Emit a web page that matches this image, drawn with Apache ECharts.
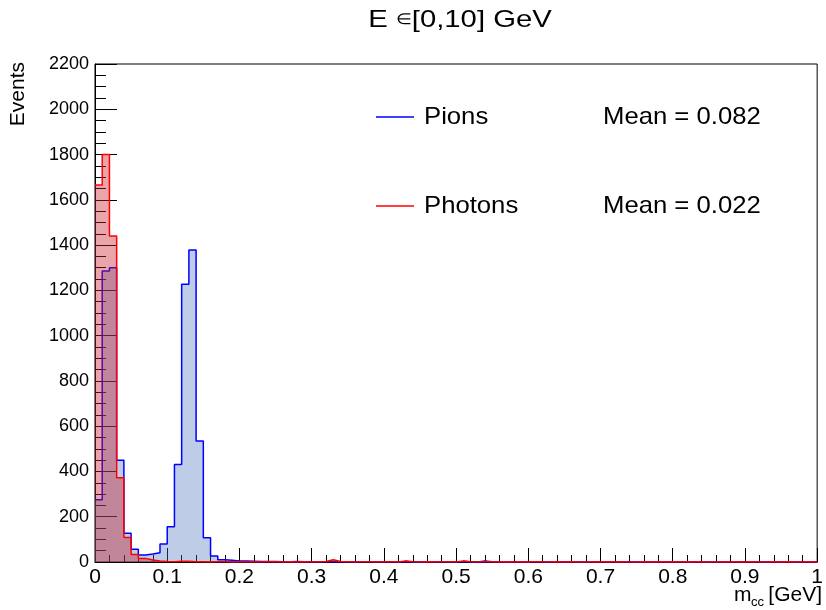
<!DOCTYPE html>
<html>
<head>
<meta charset="utf-8">
<script src="https://cdn.jsdelivr.net/npm/echarts@6/dist/echarts.min.js"></script>
<style>
html, body { margin: 0; padding: 0; background: #fff; }
#chart { width: 826px; height: 610px; }
</style>
</head>
<body>
<div id="chart"></div>
<script>
var myChart = echarts.init(document.getElementById('chart'));

// histogram: 100 bins of width 0.01 on [0,1]
var binWidth = 0.01;

var pions = [
    275, 1285, 1300, 450, 127, 56, 31, 35, 41, 80,
    156, 431, 1227, 1378, 534, 107, 26, 10, 8, 4,
    4, 3, 2, 2, 2, 1, 1, 2, 1, 1,
    0, 1, 1, 0, 1, 0, 1, 1, 0, 0,
    1, 0, 1, 0, 0, 1, 0, 0, 1, 0,
    0, 1, 0, 4, 1, 0, 0, 1, 0, 0,
    0, 1, 0, 0, 1, 0, 0, 0, 1, 0,
    0, 0, 0, 1, 0, 0, 0, 1, 0, 0,
    0, 0, 1, 0, 0, 0, 0, 0, 1, 0,
    0, 0, 0, 0, 0, 1, 0, 0, 0, 0
];

var photons = [
    1665, 1800, 1440, 372, 108, 33, 16, 9, 4, 2,
    1, 3, 3, 1, 1, 0, 1, 1, 0, 1,
    0, 1, 0, 1, 1, 0, 1, 0, 1, 0,
    1, 2, 10, 2, 1, 0, 1, 1, 0, 1,
    1, 0, 5, 1, 0, 1, 0, 1, 1, 0,
    5, 1, 0, 1, 1, 0, 1, 0, 1, 0,
    1, 1, 0, 1, 0, 1, 0, 0, 1, 0,
    1, 0, 1, 0, 0, 1, 0, 1, 0, 1,
    0, 1, 0, 1, 0, 0, 1, 0, 1, 0,
    1, 0, 0, 1, 0, 1, 0, 0, 1, 0
];

var legendNames = ['Pions', 'Photons'];
var legendMeans = ['Mean = 0.082', 'Mean = 0.022'];
var lineColors = ['#0000ff', '#ff0000'];
var fillColors = ['rgba(70,110,190,0.35)', 'rgba(200,30,40,0.40)'];

var font = '"Liberation Sans", Arial, sans-serif';

// bin left edges -> step points
function toSteps(counts) {
    var d = counts.map(function (c, i) {
        return [+(i * binWidth).toFixed(2), c];
    });
    d.push([+(counts.length * binWidth).toFixed(2), counts[counts.length - 1]]);
    return d;
}

var legendGraphics = [];
legendNames.forEach(function (name, i) {
    var y = 117 + i * 89;
    legendGraphics.push({
        type: 'line',
        shape: {x1: 376, y1: y, x2: 414, y2: y},
        style: {stroke: lineColors[i], lineWidth: 1.5}
    });
    legendGraphics.push({
        type: 'text', x: 424, y: y, scaleX: 1.07,
        style: {text: name, font: '24px ' + font, fill: '#000',
                textVerticalAlign: 'middle', verticalAlign: 'middle'}
    });
    legendGraphics.push({
        type: 'text', x: 603, y: y, scaleX: 1.07,
        style: {text: legendMeans[i], font: '24px ' + font, fill: '#000',
                textVerticalAlign: 'middle', verticalAlign: 'middle'}
    });
});

var option = {
    animation: false,
    backgroundColor: '#fff',
    grid: {
        left: 95,
        right: 4,
        top: 64,
        bottom: 48,
        show: true,
        borderColor: '#000',
        borderWidth: 1
    },
    xAxis: {
        type: 'value',
        min: 0,
        max: 1,
        interval: 0.1,
        axisLine: {onZero: false, lineStyle: {color: '#000', width: 1}},
        axisTick: {inside: true, length: 14, lineStyle: {color: '#000'}},
        minorTick: {show: true, splitNumber: 5, length: 7, lineStyle: {color: '#000'}},
        splitLine: {show: false},
        axisLabel: {color: '#000', fontSize: 21, fontFamily: font, margin: 5}
    },
    yAxis: {
        type: 'value',
        min: 0,
        max: 2200,
        interval: 200,
        axisLine: {show: true, lineStyle: {color: '#000', width: 1}},
        axisTick: {show: true, inside: true, length: 22, lineStyle: {color: '#000'}},
        minorTick: {show: true, splitNumber: 4, length: 11, lineStyle: {color: '#000'}},
        splitLine: {show: false},
        axisLabel: {
            color: '#000', fontSize: 18, fontFamily: font, margin: 6,
            formatter: function (v) { return String(v); }
        }
    },
    series: [
        {
            name: 'Pions',
            type: 'line',
            step: 'end',
            symbol: 'none',
            data: toSteps(pions),
            lineStyle: {color: lineColors[0], width: 1.5},
            areaStyle: {color: fillColors[0], opacity: 1},
            z: 2
        },
        {
            name: 'Photons',
            type: 'line',
            step: 'end',
            symbol: 'none',
            data: toSteps(photons),
            lineStyle: {color: lineColors[1], width: 1.5},
            areaStyle: {color: fillColors[1], opacity: 1},
            z: 3
        }
    ],
    graphic: [
        {
            type: 'text', x: 460, y: 20, scaleX: 1.22,
            style: {
                text: '{a|E }{b|∈}{a|[0,10] GeV}',
                textAlign: 'center', align: 'center',
                textVerticalAlign: 'middle', verticalAlign: 'middle',
                rich: {
                    a: {fontSize: 24, fontFamily: font, fill: '#000', color: '#000'},
                    b: {fontSize: 15, fontFamily: font, fill: '#000', color: '#000'}
                }
            }
        },
        {
            type: 'text', x: 18, y: 62, rotation: Math.PI / 2,
            style: {text: 'Events', font: '21px ' + font, fill: '#000',
                    textAlign: 'right', align: 'right',
                    textVerticalAlign: 'middle', verticalAlign: 'middle'}
        },
        {
            type: 'text', x: 734, y: 595,
            style: {text: 'm', font: '21px ' + font, fill: '#000',
                    textVerticalAlign: 'middle', verticalAlign: 'middle'}
        },
        {
            type: 'text', x: 751, y: 602,
            style: {text: 'cc', font: '13px ' + font, fill: '#000',
                    textVerticalAlign: 'middle', verticalAlign: 'middle'}
        },
        {
            type: 'text', x: 822, y: 595,
            style: {text: '[GeV]', font: '21px ' + font, fill: '#000',
                    textAlign: 'right', align: 'right',
                    textVerticalAlign: 'middle', verticalAlign: 'middle'}
        }
    ].concat(legendGraphics)
};

myChart.setOption(option);
</script>
</body>
</html>
